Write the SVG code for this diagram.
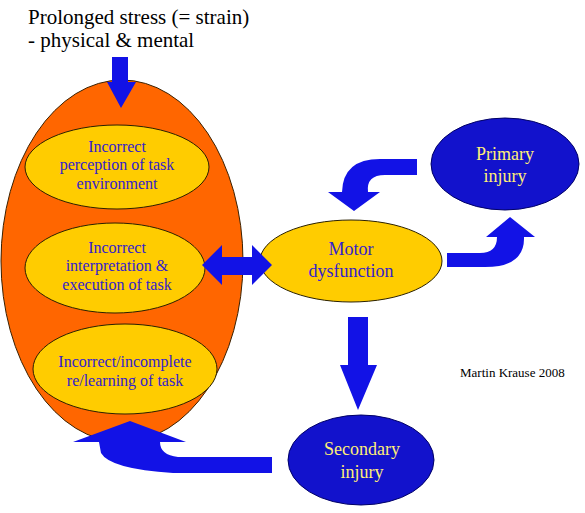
<svg xmlns="http://www.w3.org/2000/svg" width="585" height="513" viewBox="0 0 585 513">
<style>
.bg{fill:#ffffff}
.orange{fill:#ff6600;stroke:#3a2000;stroke-width:1}
.gold{fill:#ffcc00;stroke:#2a2000;stroke-width:1}
.blue{fill:#1212cc;stroke:#000066;stroke-width:1}
.arrow{fill:#1212e6}
</style>
<rect class="bg" width="585" height="513"/>
<g id="title" font-family="Liberation Serif" font-size="21" fill="#000">
<text x="28" y="24">Prolonged stress (= strain)</text>
<text x="28" y="47">- physical &amp; mental</text>
</g>
<g id="stress-ellipse">
<ellipse class="orange" cx="122" cy="261" rx="121" ry="181"/>
</g>
<g id="perception" font-family="Liberation Serif" font-size="16" fill="#3322cc" text-anchor="middle">
<ellipse class="gold" cx="117" cy="167" rx="92" ry="42"/>
<text x="117" y="152">Incorrect</text>
<text x="117" y="170">perception of task</text>
<text x="117" y="189">environment</text>
</g>
<g id="interpretation" font-family="Liberation Serif" font-size="16" fill="#3322cc" text-anchor="middle">
<ellipse class="gold" cx="115" cy="268" rx="90" ry="45"/>
<text x="117" y="253">Incorrect</text>
<text x="117" y="271">interpretation &amp;</text>
<text x="117" y="290">execution of task</text>
</g>
<g id="relearning" font-family="Liberation Serif" font-size="16" fill="#3322cc" text-anchor="middle">
<ellipse class="gold" cx="125" cy="369" rx="92" ry="45"/>
<text x="125" y="367">Incorrect/incomplete</text>
<text x="125" y="386">re/learning of task</text>
</g>
<g id="motor" font-family="Liberation Serif" font-size="18" fill="#3322cc" text-anchor="middle">
<ellipse class="gold" cx="351" cy="261" rx="91" ry="41"/>
<text x="351" y="255">Motor</text>
<text x="351" y="277">dysfunction</text>
</g>
<g id="primary" font-family="Liberation Serif" font-size="18" fill="#ffee77" text-anchor="middle">
<ellipse class="blue" cx="505" cy="164" rx="74" ry="46"/>
<text x="505" y="160">Primary</text>
<text x="505" y="182">injury</text>
</g>
<g id="secondary" font-family="Liberation Serif" font-size="18" fill="#ffee77" text-anchor="middle">
<ellipse class="blue" cx="361" cy="460" rx="73" ry="45"/>
<text x="362" y="455">Secondary</text>
<text x="362" y="478">injury</text>
</g>
<g id="connectors">
<polygon class="arrow" points="112,57 128,57 128,82 136,82 121,108 107,82 112,82"/>
<polygon class="arrow" points="202,265 222,245 222,257 252,257 252,245 272,265 252,285 252,275 222,275 222,285"/>
<path class="arrow" d="M417,159 L380,159 Q343,159 342,192 L328,192 L354,211 L380,192 L368,192 Q366,175 385,175 L417,175 Z"/>
<path class="arrow" d="M447,253 L480,253 Q497,253 497,237 L486,237 L510,217 L535,237 L524,237 Q525,267 485,267 L447,267 Z"/>
<polygon class="arrow" points="348,317 368,317 368,365 377,365 358,410 340,365 348,365"/>
<path class="arrow" d="M272,457 L178,457 Q160,455 160,442 L186,442 L130,421 L73,442 L99,442 L101,453 Q110,469 173,473 L272,473 Z"/>
</g>
<text font-family="Liberation Serif" font-size="13" fill="#000" x="460" y="377">Martin Krause 2008</text>
</svg>
